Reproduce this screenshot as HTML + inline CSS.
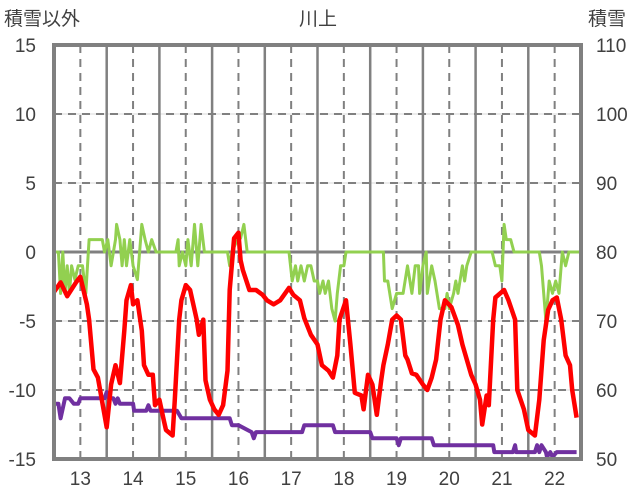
<!DOCTYPE html>
<html><head><meta charset="utf-8"><style>
html,body{margin:0;padding:0;background:#fff;width:636px;height:501px;overflow:hidden}
svg text{font-family:"Liberation Sans","Noto Sans CJK JP",sans-serif;fill:#404040}
</style></head><body>
<svg id="chart" width="636" height="501" viewBox="0 0 636 501" xmlns="http://www.w3.org/2000/svg">
<text x="4" y="25" font-size="19">積雪以外</text>
<text x="318" y="25" font-size="19" text-anchor="middle">川上</text>
<text x="588" y="25" font-size="19">積雪</text>
<g id="grid"></g>
<g id="series"></g>
<g id="axes"></g>
</svg>
<script>
const dayLabels = ["13","14","15","16","17","18","19","20","21","22"];
const leftTicks = [15,10,5,0,-5,-10,-15];
const rightTicks = [110,100,90,80,70,60,50];
const redHours = [0,3,6,10,12,15,16,18,20,21,24,26,28,30,32,33,35,36,38,40,41,43,45,46,48,50,51,54,55,57,58,60,62,65,66,68,69,71,73,75,77,79,80,82,84,85,86,89,92,95,97,100,103,107,109,112,114,117,120,122,125,127,129,130,133,135,137,140,141,143,145,147,149,150,152,154,156,158,160,161,163,165,168,170,172,174,176,178,181,184,186,188,190,192,194,195,197,198,200,201,205,207,210,211,214,216,219,221,223,225,227,229,231,233,235,236,238];
const redValues = [-2.9,-2.2,-3.2,-2.2,-1.8,-3.8,-4.9,-8.5,-9.1,-10,-12.7,-9.6,-8.2,-9.5,-5.7,-3.5,-2.4,-3.8,-3.5,-5.7,-8.2,-8.9,-8.9,-11.1,-10.7,-12.2,-12.9,-13.3,-10.7,-4.9,-3.5,-2.4,-2.75,-4.9,-6,-4.9,-9.3,-10.7,-11.4,-11.8,-11.1,-8.6,-2.75,1,1.4,-0.6,-1.3,-2.75,-2.75,-3.1,-3.5,-3.8,-3.5,-2.6,-3.1,-3.5,-4.8,-6,-6.7,-8.2,-8.6,-9.1,-7.5,-4.9,-3.5,-6.7,-10.2,-10.4,-11.4,-8.9,-9.6,-11.8,-9.3,-8.2,-6.7,-4.9,-4.6,-4.9,-7.5,-7.8,-8.8,-8.9,-9.6,-10,-9.1,-7.8,-4.9,-3.5,-4,-5.3,-6.7,-7.8,-8.9,-9.6,-10.7,-12.5,-10.4,-11.1,-4.9,-3.3,-2.75,-3.5,-4.9,-10,-11.4,-12.9,-13.3,-10.7,-6.4,-4.2,-3.5,-3.3,-4.9,-7.5,-8.2,-10,-12];
const greenHours = [0,2,3,4,5,6,7,8,9.5,11,13,14.5,16,22,23,24.5,26,28,28.5,30,31,32,33,34.5,36,38,40,41.5,43,44.5,46.5,55.5,56.5,57,58.5,60,61,62.5,64,65.5,67,68.5,79,80,81,83.5,85,86.5,88,107,108.5,110,111,112.5,114,115.5,117,118.5,120,121,122.5,123.5,125,126.5,128,129,130.5,132,133,150,150.5,152,154,156,158,159,161,163,164.5,166,166.5,168,169.5,170,172,173.5,175.5,178,179,180,182,183,184,186,187,188,190,199.5,201,203,204,205,206,208,209.5,221,222,224,225.5,227,228.5,230,231.5,233,234.5,240];
const greenValues = [0,0,-3,0,-3,-1,-3,-1,-2,-1,-1,-3,0.9,0.9,0,0.9,-1,0.9,2,0.9,-1,0.9,-1,0.9,-1,-2,2,0.9,0,0.9,0,0,0.9,-1,0,-1,0.9,-1,2,-1,2,0,0,-1,0,0.9,1,2,0,0,-2.1,-1,-2.1,-1,-2.1,-1,-1,-2.1,-2.1,-3,-2.1,-3,-2.1,-4.1,-5,-3,-1,-1,0,0,-2.1,-2.1,-4.1,-3,-3,-3,-1,-3,-1,-1,-3,-1,0,-3,-1,-2.1,-4.1,-4.1,-3,-4.1,-3,-2.1,-3,-1,-2.1,-1,0,0,-1,-1,-2.1,2,0.9,0.9,0,0,-1,-5,-2.1,-3,-2.1,-3,0,-1,0,0];
const snowHours = [0,2,3,5,7,9,11,12,23,24,25,27,28,29,30,36,36.5,42,43,44,56,58,80,81,84,90,91,92,113,114,127,128,144,145,156,157,158,172,173,200,200.5,209,210,210.5,219,220,221,222,224,224.5,226,227,229,238];
const snowValues = [58,58,55.9,58.8,58.8,58,58,58.8,58.8,59.7,58.8,58.8,58,58.8,58,58,57,57,57.8,57,57,55.9,55.9,54.9,54.9,53.9,53,53.9,53.9,54.9,54.9,53.9,53.9,53,53,52,53,53,52,52,51,51,52,51,51,52,51,52,51,50.3,51,50.3,51,51];

const L=54,R=581,T=45,B=459;
const xH = h => L + h/240*(R-L);
const yL = v => B - (v+15)/30*(B-T);
const yR = v => B - (v-50)/60*(B-T);
const NS="http://www.w3.org/2000/svg";
function mk(tag, attrs, parent){const e=document.createElementNS(NS,tag);for(const k in attrs)e.setAttribute(k,attrs[k]);parent.appendChild(e);return e;}
const grid=document.getElementById('grid'), series=document.getElementById('series'), axes=document.getElementById('axes');

leftTicks.forEach(v=>{
  const y=yL(v);
  if(v!==15 && v!==-15){
    if(v===0){const g=mk('line',{x1:L,x2:R,y1:y,y2:y,stroke:'#808080','stroke-width':3},grid);
      
      }
    else{mk('line',{x1:L,x2:R,y1:y,y2:y,stroke:'#d9d9d9','stroke-width':1},grid);
      const g=mk('line',{x1:L,x2:R,y1:y,y2:y,stroke:'#808080','stroke-width':2,'stroke-dasharray':'8,6'},grid);
      
      }
  }
  const t=mk('text',{x:36,y:y+7,'font-size':19,'text-anchor':'end'},axes);t.textContent=v;
  
  
});
rightTicks.forEach(v=>{
  const t=mk('text',{x:596,y:yR(v)+7,'font-size':19},axes);t.textContent=v;
  
  
});
dayLabels.forEach((d,i)=>{
  const xc=xH(i*24+12), xb=xH((i+1)*24);
  const g=mk('line',{x1:xc,x2:xc,y1:T,y2:B,stroke:'#808080','stroke-width':2,'stroke-dasharray':'8,6'},grid);
  
  
  if(i<dayLabels.length-1){const s=mk('line',{x1:xb,x2:xb,y1:T,y2:B,stroke:'#808080','stroke-width':2.5},grid);
    
    }
  const t=mk('text',{x:xc,y:485,'font-size':19,'text-anchor':'middle'},axes);t.textContent=d;
  
  
});
function line(hours, vals, yf, color, w, name){
  const p=hours.map((h,i)=>xH(h).toFixed(1)+','+yf(vals[i]).toFixed(1)).join(' ');
  const e=mk('polyline',{points:p,fill:'none',stroke:color,'stroke-width':w,'stroke-linejoin':'round'},series);
  
  
}
line(greenHours,greenValues,yL,'#92d050',3,'green-series-line');
line(snowHours,snowValues,yR,'#7030a0',4,'snow-depth-line');
line(redHours,redValues,yL,'#ff0000',4.5,'temperature-line');
const f=mk('rect',{x:L,y:T,width:R-L,height:B-T,fill:'none',stroke:'#808080','stroke-width':4},axes);


</script>
</body></html>
